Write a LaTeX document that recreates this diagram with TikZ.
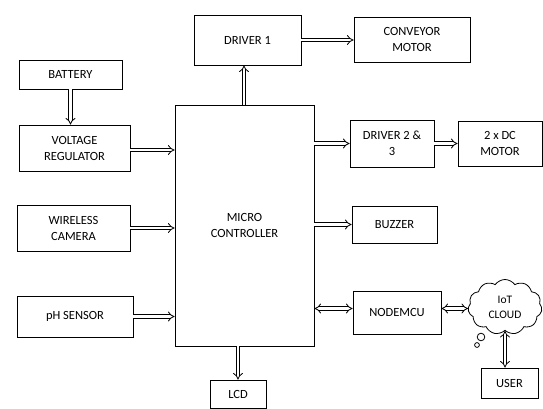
\documentclass[tikz,border=0pt]{standalone}
\usepackage{fontspec}
\setmainfont{Carlito}
\usetikzlibrary{arrows.meta}
\usetikzlibrary{shapes.symbols}

\tikzset{
  blk/.style={draw, line width=0.9pt, align=center, inner sep=0pt,
    font=\fontsize{12.5}{16}\selectfont},
  dbl/.style={double, double distance=2.6pt, line width=0.8pt, -{Implies[length=4pt]}},
  dblboth/.style={double, double distance=2.6pt, line width=0.8pt, {Implies[length=4pt]}-{Implies[length=4pt]}}
}

\begin{document}
\begin{tikzpicture}[x=1pt, y=-1pt]
\useasboundingbox[fill=white] (0,0) rectangle (543,409);
% blocks, left side
\node[blk, minimum width=103pt, minimum height=29pt] (batt) at (70.5,74.5) {BATTERY};
\node[blk, minimum width=111pt, minimum height=46pt] (volt) at (74.5,148) {VOLTAGE\\REGULATOR};
\node[blk, minimum width=113pt, minimum height=46pt] (cam) at (73.5,228) {WIRELESS\\CAMERA};
\node[blk, minimum width=116pt, minimum height=41pt] (ph) at (75,316.5) {pH SENSOR};
% controller
\node[blk, minimum width=139pt, minimum height=241pt] (mc) at (244.5,225.5) {MICRO\\CONTROLLER};
% blocks, right side
\node[blk, minimum width=107pt, minimum height=50pt] (drv1) at (247.5,40) {DRIVER 1};
\node[blk, minimum width=116pt, minimum height=45pt] (conv) at (412,39.5) {CONVEYOR\\MOTOR};
\node[blk, minimum width=84pt, minimum height=47pt] (drv23) at (392,143.5) {DRIVER 2 \&\\3};
\node[blk, minimum width=84pt, minimum height=45pt] (dc) at (500,143.5) {2 x DC\\MOTOR};
\node[blk, minimum width=85pt, minimum height=37pt] (buzz) at (394.5,224.5) {BUZZER};
\node[blk, minimum width=88pt, minimum height=43pt] (nmcu) at (397,312.5) {NODEMCU};
\node[draw, line width=0.8pt, cloud, cloud puffs=11, cloud puff arc=110, aspect=1.4,
  minimum width=74pt, minimum height=55pt, inner sep=0pt, align=center,
  font=\fontsize{11.5}{15}\selectfont] (cloud) at (505,307) {IoT\\CLOUD};
\draw[line width=0.8pt] (481,337) circle (3.8);
\draw[line width=0.8pt] (477,345) circle (2.4);
\node[blk, minimum width=57pt, minimum height=30pt] (user) at (509.5,383) {USER};
\node[blk, minimum width=56pt, minimum height=28pt] (lcd) at (238,394) {LCD};
% links
\draw[dbl] (batt) -- (batt |- volt.north);
\draw[dbl] ([yshift=-2pt]volt.east) -- ([yshift=-2pt]volt.east -| mc.west);
\draw[dbl] (cam) -- (cam -| mc.west);
\draw[dbl] (ph) -- (ph -| mc.west);
\draw[dbl] (mc.north -| 244,0) -- (244,0 |- drv1.south);
\draw[dbl] (drv1) -- (drv1 -| conv.west);
\draw[dbl] (mc.east |- drv23) -- (drv23);
\draw[dbl] (drv23) -- (drv23 -| dc.west);
\draw[dbl] (mc.east |- buzz) -- (buzz);
\draw[dblboth] ([yshift=4pt]mc.east |- nmcu) -- ([yshift=4pt]nmcu.west);
\draw[dblboth] ([yshift=4pt]nmcu.east) -- ([yshift=4pt]nmcu.east -| cloud.west);
\draw[dblboth] (cloud.south) -- (cloud.south |- user.north);
\draw[dbl] (mc.south -| lcd) -- (lcd);
\end{tikzpicture}
\end{document}
